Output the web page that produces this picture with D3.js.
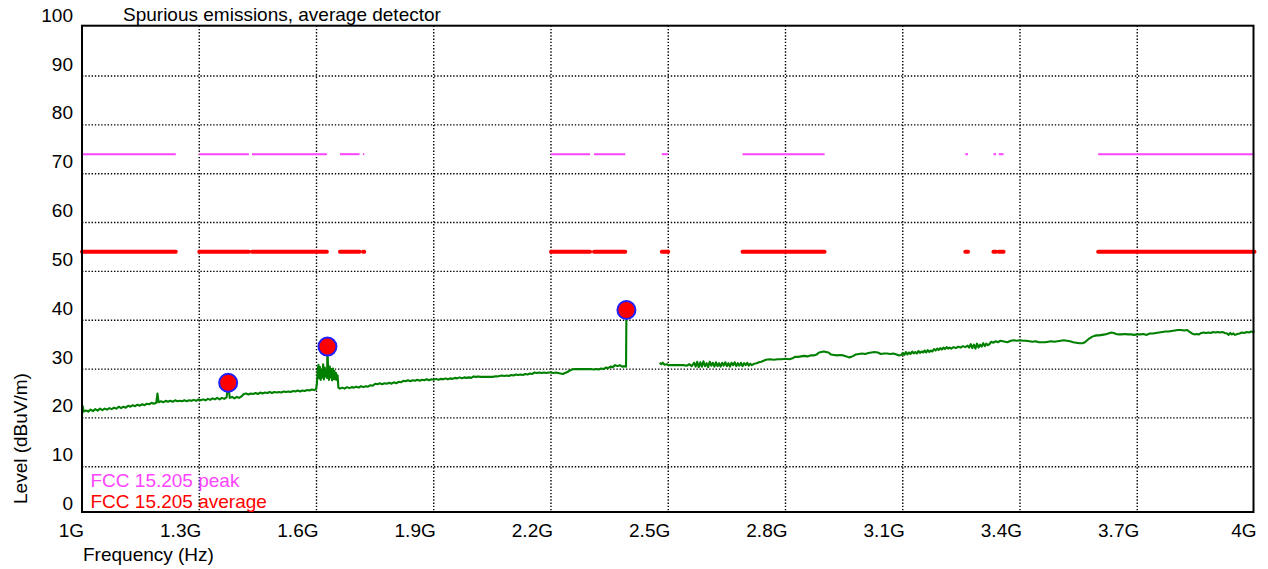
<!DOCTYPE html>
<html>
<head>
<meta charset="utf-8">
<script src="https://cdn.jsdelivr.net/npm/d3@7"></script>
<style>
  html, body { margin: 0; padding: 0; background: #fff; }
  svg { display: block; }
  text { font-family: "Liberation Sans", Arial, sans-serif; font-size: 19px; fill: #000; }
</style>
</head>
<body>
<svg id="chart" width="1268" height="569"></svg>
<script>
// ---- data ----------------------------------------------------------------
const title = "Spurious emissions, average detector";
const xAxisTitle = "Frequency (Hz)";
const yAxisTitle = "Level (dBuV/m)";

const xTickValues = [1000, 1300, 1600, 1900, 2200, 2500, 2800, 3100, 3400, 3700, 4000]; // MHz
const xTickLabels = ["1G", "1.3G", "1.6G", "1.9G", "2.2G", "2.5G", "2.8G", "3.1G", "3.4G", "3.7G", "4G"];
const yTickValues = [0, 10, 20, 30, 40, 50, 60, 70, 80, 90, 100];

// FCC 15.205 restricted bands inside the sweep (MHz)
const restrictedBands = [
  [1000, 1240], [1300, 1427], [1435, 1626.5], [1660, 1710], [1718.8, 1722.2],
  [2200, 2300], [2310, 2390], [2483.5, 2500], [2690, 2900],
  [3260, 3267], [3332, 3339], [3345.8, 3358], [3600, 4000]
];
const peakLimit = 74;     // dBuV/m
const averageLimit = 54;  // dBuV/m
const legendNames = ["FCC 15.205 peak", "FCC 15.205 average"];

// Measured trace, average detector: [frequency MHz, level dBuV/m]; null = no data
const trace = [
  [1000,20.6],[1002,22.4],[1004,21.3],[1010,21.5],[1016,21.3],[1022,21.7],[1028,21.4],[1034,21.8],
  [1040,21.5],[1046,21.9],[1052,21.6],[1058,21.9],[1064,21.7],[1070,22.0],[1076,21.8],[1082,22.1],
  [1088,21.9],[1094,22.3],[1100,22.0],[1106,22.3],[1112,22.1],[1118,22.5],[1124,22.3],[1130,22.6],
  [1136,22.4],[1142,22.7],[1148,22.5],[1154,22.8],[1160,22.6],[1166,22.9],[1172,22.8],[1178,23.1],
  [1184,22.9],[1190,23.1],[1193,25.0],[1196,23.2],[1202,23.4],[1208,23.2],[1214,23.5],[1220,23.3],
  [1226,23.5],[1232,23.3],[1238,23.6],[1244,23.4],[1250,23.5],[1256,23.4],[1262,23.6],[1268,23.4],
  [1274,23.6],[1280,23.5],[1286,23.7],[1292,23.5],[1298,23.8],[1304,23.6],[1310,23.8],[1316,23.6],
  [1322,23.9],[1328,23.7],[1334,24.0],[1340,23.8],[1346,24.1],[1352,23.8],[1358,24.1],[1364,23.9],
  [1370,24.2],[1374,27.2],[1378,24.1],[1384,24.3],[1390,24.0],[1396,24.3],[1402,24.1],[1408,24.4],
  [1414,24.9],[1420,25.0],[1426,24.8],[1432,25.0],[1438,24.9],[1444,25.1],[1450,24.9],[1456,25.2],
  [1462,25.0],[1468,25.2],[1474,25.1],[1480,25.3],[1486,25.1],[1492,25.3],[1498,25.2],[1504,25.3],
  [1510,25.2],[1516,25.4],[1522,25.3],[1528,25.4],[1534,25.3],[1540,25.5],[1546,25.4],[1552,25.6],
  [1558,25.4],[1564,25.6],[1570,25.5],[1576,25.7],[1582,25.6],[1588,25.8],[1594,25.7],[1599,25.9],
  [1601,27.0],[1603,29.8],[1605,30.9],[1607,28.1],[1609,30.4],[1611,27.8],[1613,29.9],[1615,28.3],
  [1617,31.0],[1619,27.9],[1621,30.3],[1623,28.5],[1625,29.7],[1627,28.2],[1628,34.6],[1630,29.1],
  [1632,27.8],[1634,30.5],[1636,28.3],[1638,30.0],[1640,27.7],[1642,30.1],[1644,28.0],[1646,29.6],
  [1648,27.9],[1650,29.2],[1652,27.8],[1654,28.7],[1656,26.2],[1660,26.0],[1666,26.2],[1672,26.0],
  [1678,26.3],[1684,26.1],[1690,26.3],[1696,26.2],[1702,26.4],[1708,26.2],[1714,26.5],[1720,26.3],
  [1726,26.5],[1732,26.4],[1738,26.7],[1744,26.6],[1750,27.0],[1756,26.9],[1762,27.1],[1768,26.9],
  [1774,27.1],[1780,27.0],[1786,27.2],[1792,27.0],[1798,27.3],[1804,27.1],[1810,27.4],[1816,27.3],
  [1822,27.6],[1828,27.5],[1834,27.7],[1840,27.5],[1846,27.7],[1852,27.6],[1858,27.8],[1864,27.6],
  [1870,27.8],[1876,27.7],[1882,27.9],[1888,27.7],[1894,27.9],[1900,27.8],[1906,28.0],[1912,27.8],
  [1918,28.0],[1924,27.9],[1930,28.1],[1936,27.9],[1942,28.1],[1948,28.0],[1954,28.2],[1960,28.1],
  [1966,28.3],[1972,28.1],[1978,28.3],[1984,28.2],[1990,28.3],[1996,28.2],[2002,28.5],[2008,28.4],
  [2014,28.5],[2020,28.4],[2026,28.4],[2032,28.4],[2038,28.4],[2044,28.4],[2050,28.4],[2056,28.5],
  [2062,28.5],[2068,28.6],[2074,28.7],[2080,28.6],[2086,28.7],[2092,28.6],[2098,28.8],[2104,28.7],
  [2110,28.9],[2116,28.8],[2122,28.9],[2128,28.8],[2134,29.0],[2140,28.9],[2146,29.1],[2152,29.0],
  [2158,29.3],[2164,29.2],[2170,29.3],[2176,29.2],[2182,29.3],[2188,29.2],[2194,29.3],[2200,29.3],
  [2206,29.2],[2212,29.3],[2218,29.2],[2224,29.1],[2230,29.0],[2236,29.2],[2242,29.4],[2248,29.7],
  [2254,29.9],[2260,30.0],[2270,30.0],[2280,30.0],[2290,30.0],[2300,30.0],[2310,29.9],[2316,30.0],
  [2322,29.9],[2328,30.1],[2334,30.0],[2340,30.3],[2346,30.2],[2352,30.5],[2358,30.4],[2364,30.8],
  [2370,30.6],[2376,30.8],[2382,30.5],[2388,30.6],[2392,30.5],[2393,42.1],
  [2435,null],
  [2478,31.3],[2482,31.0],[2486,31.3],[2490,30.9],[2496,31.0],[2502,30.8],[2510,30.8],[2520,30.8],
  [2530,30.8],[2540,30.8],[2548,30.7],[2554,31.0],[2560,30.6],[2566,31.3],[2570,30.5],[2574,31.5],
  [2578,30.4],[2582,31.4],[2586,30.5],[2590,31.6],[2594,30.6],[2598,31.2],[2602,30.4],[2606,31.5],
  [2610,30.7],[2614,31.3],[2618,30.5],[2622,31.4],[2626,30.6],[2630,31.2],[2634,30.5],[2638,31.3],
  [2642,30.7],[2646,31.4],[2650,30.6],[2654,31.2],[2658,30.5],[2662,31.3],[2666,30.8],[2670,31.4],
  [2674,30.6],[2678,31.2],[2682,30.7],[2686,31.3],[2690,30.6],[2694,31.2],[2698,30.8],[2702,31.3],
  [2706,30.7],[2710,31.1],[2714,30.8],[2720,31.1],[2726,31.2],[2732,31.4],[2738,31.5],[2744,31.7],
  [2750,31.9],[2760,32.0],[2770,31.9],[2780,32.0],[2790,32.0],[2800,32.1],[2810,32.0],[2818,32.2],
  [2824,32.5],[2832,32.5],[2840,32.6],[2848,32.7],[2856,32.6],[2864,32.8],[2872,32.8],[2880,33.0],
  [2886,33.4],[2892,33.5],[2898,33.6],[2904,33.5],[2910,33.4],[2916,33.0],[2924,32.9],[2932,32.8],
  [2940,32.9],[2948,32.8],[2956,32.6],[2962,32.4],[2968,32.5],[2974,32.7],[2980,33.0],[2988,33.1],
  [2996,33.2],[3004,33.1],[3012,33.3],[3020,33.4],[3028,33.5],[3036,33.4],[3044,33.1],[3052,33.2],
  [3060,33.2],[3068,33.1],[3076,33.2],[3084,33.0],[3090,32.8],[3096,32.9],[3100,33.3],[3104,32.9],
  [3108,33.5],[3112,33.0],[3116,33.4],[3120,33.1],[3124,33.6],[3128,33.2],[3132,33.5],[3136,33.2],
  [3140,33.7],[3144,33.3],[3148,33.6],[3152,33.4],[3156,33.8],[3160,33.4],[3164,33.9],[3168,33.5],
  [3172,33.8],[3176,33.6],[3180,34.1],[3184,33.8],[3188,34.2],[3192,33.9],[3196,34.3],[3200,34.0],
  [3204,34.4],[3208,34.1],[3212,34.5],[3216,34.2],[3220,34.4],[3224,34.2],[3230,34.5],[3236,34.3],
  [3242,34.6],[3248,34.4],[3254,34.7],[3260,34.5],[3266,34.8],[3270,34.4],[3274,35.1],[3278,34.3],
  [3282,35.0],[3286,34.2],[3290,35.2],[3294,34.4],[3298,35.0],[3302,34.6],[3306,35.3],[3310,34.7],
  [3314,35.2],[3318,34.9],[3322,35.1],[3326,35.6],[3332,35.4],[3338,35.7],[3344,35.5],[3350,35.8],
  [3356,35.7],[3362,35.6],[3368,35.5],[3376,35.8],[3384,35.9],[3392,35.8],[3400,35.9],[3408,35.8],
  [3416,35.8],[3424,35.7],[3432,35.6],[3440,35.7],[3448,35.5],[3456,35.5],[3464,35.5],[3472,35.6],
  [3480,35.7],[3488,35.6],[3496,35.7],[3504,35.8],[3512,35.9],[3520,35.8],[3528,35.7],[3536,35.5],
  [3544,35.4],[3552,35.3],[3560,35.3],[3566,35.5],[3572,35.9],[3578,36.3],[3584,36.6],[3590,36.8],
  [3596,36.9],[3602,36.9],[3610,37.0],[3618,37.1],[3626,37.3],[3634,37.5],[3640,37.4],[3646,37.2],
  [3652,37.1],[3660,37.1],[3668,37.2],[3676,37.1],[3684,37.1],[3692,37.0],[3700,37.1],[3708,37.1],
  [3716,37.2],[3724,37.0],[3732,37.3],[3740,37.3],[3748,37.4],[3756,37.5],[3764,37.6],[3772,37.7],
  [3780,37.7],[3788,37.8],[3796,37.9],[3804,38.0],[3812,38.0],[3820,37.9],[3828,38.0],[3834,37.6],
  [3840,37.3],[3846,37.1],[3852,37.2],[3858,37.1],[3864,37.4],[3870,37.5],[3876,37.4],[3882,37.5],
  [3888,37.4],[3894,37.6],[3900,37.5],[3906,37.6],[3912,37.5],[3918,37.6],[3924,37.4],[3930,37.3],
  [3934,37.0],[3938,37.4],[3942,37.1],[3946,37.3],[3950,37.0],[3956,37.2],[3962,37.3],[3968,37.5],
  [3974,37.4],[3980,37.6],[3986,37.5],[3992,37.7],[3996,37.6],[4000,37.7]
];

// Peaks picked by the marker function (MHz)
const markerFreqs = [1374, 1628, 2393];

// ---- layout ----------------------------------------------------------------
const frame = { left: 82, right: 1253.5, top: 25.7, bottom: 512 };
const colors = { trace: "#008000", peak: "#ff44ff", average: "#ff0000", markerFill: "#ff0000", markerStroke: "#1f1fff" };

const svg = d3.select("#chart");
const x = d3.scaleLinear().domain([1000, 4000]).range([82, 1254.5]);
const y = d3.scaleLinear().domain([0, 100]).range([515.6, 27.2]);

// grid
const grid = svg.append("g").attr("stroke", "#000").attr("stroke-width", 1.4).attr("stroke-dasharray", "1.4 1.8");
grid.selectAll("line.v").data(xTickValues.slice(1, -1)).join("line")
  .attr("x1", d => x(d)).attr("x2", d => x(d))
  .attr("y1", frame.top).attr("y2", frame.bottom);
grid.selectAll("line.h").data(yTickValues.slice(1, -1)).join("line")
  .attr("x1", frame.left).attr("x2", frame.right)
  .attr("y1", d => y(d)).attr("y2", d => y(d));

// limit lines per restricted band
const limits = svg.append("g");
limits.selectAll("line.avg").data(restrictedBands).join("line")
  .attr("x1", d => x(d[0])).attr("x2", d => x(d[1]))
  .attr("y1", y(averageLimit)).attr("y2", y(averageLimit))
  .attr("stroke", colors.average).attr("stroke-width", 4).attr("stroke-linecap", "round");
limits.selectAll("line.pk").data(restrictedBands).join("line")
  .attr("x1", d => x(d[0])).attr("x2", d => x(d[1]))
  .attr("y1", y(peakLimit)).attr("y2", y(peakLimit))
  .attr("stroke", colors.peak).attr("stroke-width", 2);

// measured trace
const line = d3.line()
  .defined(d => d[1] != null)
  .x(d => x(d[0]))
  .y(d => y(d[1]));
svg.append("path").datum(trace)
  .attr("fill", "none").attr("stroke", colors.trace).attr("stroke-width", 2.1)
  .attr("stroke-linejoin", "round")
  .attr("d", line);

// markers
const markerPoints = markerFreqs.map(f => trace.find(d => d[0] === f));
svg.append("g").selectAll("circle").data(markerPoints).join("circle")
  .attr("cx", d => x(d[0])).attr("cy", d => y(d[1])).attr("r", 9)
  .attr("fill", colors.markerFill).attr("stroke", colors.markerStroke).attr("stroke-width", 2);

// frame
svg.append("rect")
  .attr("x", frame.left).attr("y", frame.top)
  .attr("width", frame.right - frame.left).attr("height", frame.bottom - frame.top)
  .attr("fill", "none").attr("stroke", "#000").attr("stroke-width", 2);

// tick labels
svg.append("g").selectAll("text").data(yTickValues).join("text")
  .attr("x", 73).attr("y", d => y(d) - 5.5)
  .attr("text-anchor", "end").text(d => d);
svg.append("g").selectAll("text").data(xTickValues).join("text")
  .attr("x", d => x(d) + 2).attr("y", 537)
  .attr("text-anchor", "end").text((d, i) => xTickLabels[i]);

// titles
svg.append("text").attr("x", 123).attr("y", 20.5).text(title);
svg.append("text").attr("x", 83).attr("y", 560.5).text(xAxisTitle);
svg.append("text").attr("transform", "translate(27,504) rotate(-90)").text(yAxisTitle);

// legend
svg.append("text").attr("x", 90.5).attr("y", 486.5).style("fill", colors.peak).text(legendNames[0]);
svg.append("text").attr("x", 90.5).attr("y", 508).style("fill", colors.average).text(legendNames[1]);
</script>
</body>
</html>
